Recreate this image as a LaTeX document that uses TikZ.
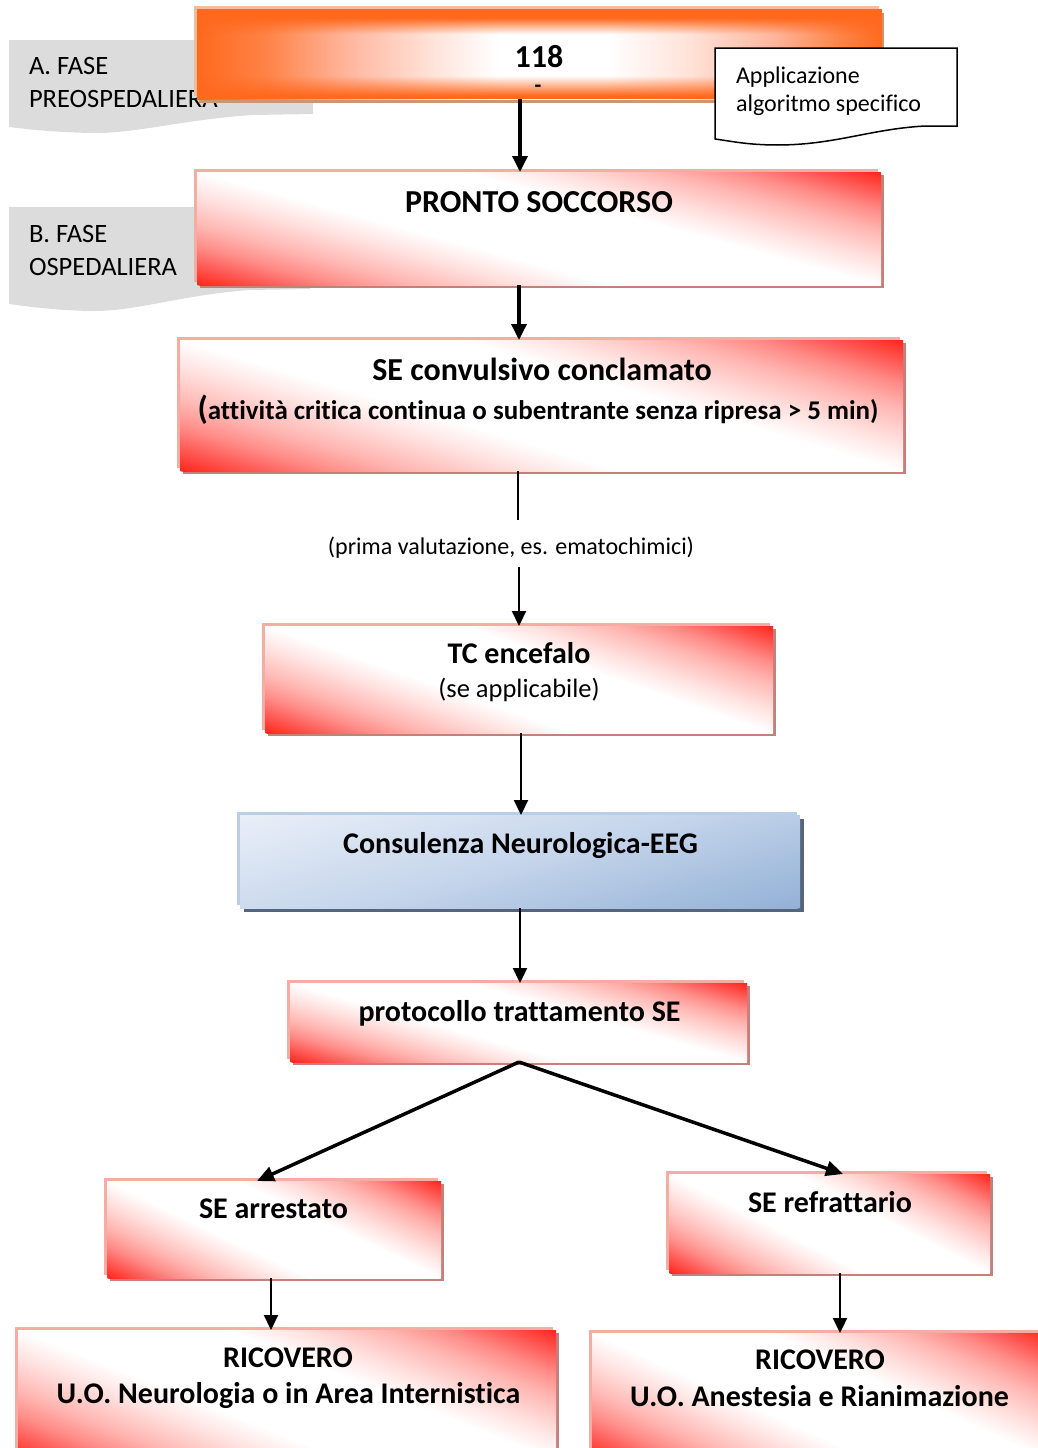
\documentclass[tikz,border=0pt]{standalone}
\usepackage{fontspec}
\setmainfont{Carlito}[Ligatures=NoCommon]
\usetikzlibrary{arrows.meta,shadows,fadings}

% palette
\definecolor{sered}{RGB}{255,38,28}
\definecolor{sepinkA}{RGB}{255,92,88}
\definecolor{sepinkB}{RGB}{255,140,136}
\definecolor{sepinkC}{RGB}{255,182,178}
\definecolor{sepinkD}{RGB}{255,226,224}
\definecolor{edgepink}{RGB}{245,172,162}
\definecolor{shadowred}{RGB}{196,128,122}
\definecolor{orng}{RGB}{255,105,30}
\definecolor{orngA}{RGB}{255,130,70}
\definecolor{orngB}{RGB}{255,182,158}
\definecolor{orngC}{RGB}{255,226,216}
\definecolor{orngedge}{RGB}{246,188,152}
\definecolor{orngshadow}{RGB}{204,150,118}
\definecolor{bluelight}{RGB}{233,239,248}
\definecolor{bluemid}{RGB}{197,213,235}
\definecolor{bluedark}{RGB}{147,177,214}
\definecolor{blueedge}{RGB}{186,206,231}
\definecolor{blueshadow}{RGB}{86,101,126}
\definecolor{labelgray}{RGB}{220,220,220}

% red -- white -- red fill of the flow boxes (corner to corner)
\pgfdeclarehorizontalshading{redreflect}{100bp}{color(0bp)=(sered); color(25bp)=(sered);
  color(28.5bp)=(sepinkA); color(31.5bp)=(sepinkB); color(35bp)=(sepinkC);
  color(40bp)=(sepinkD); color(44bp)=(white); color(56bp)=(white);
  color(60bp)=(sepinkD); color(65bp)=(sepinkC); color(68.5bp)=(sepinkB);
  color(71.5bp)=(sepinkA); color(75bp)=(sered); color(100bp)=(sered)}
% light to dark blue
\pgfdeclarehorizontalshading{bluediag}{100bp}{color(0bp)=(bluelight); color(25bp)=(bluelight);
  color(50bp)=(bluemid); color(75bp)=(bluedark); color(100bp)=(bluedark)}
% orange sides, white centre
\pgfdeclarehorizontalshading{orangeside}{100bp}{color(0bp)=(orng); color(25bp)=(orng);
  color(30bp)=(orngA); color(36bp)=(orngB); color(42bp)=(orngC); color(47bp)=(white);
  color(55bp)=(white); color(61bp)=(orngC); color(67bp)=(orngB); color(72bp)=(orngA);
  color(75bp)=(orng); color(100bp)=(orng)}
% opaque top and bottom bands, transparent middle
\pgfdeclareverticalshading{bandmask}{100bp}{color(0bp)=(pgftransparent!0);
  color(27bp)=(pgftransparent!0); color(38bp)=(pgftransparent!100);
  color(61bp)=(pgftransparent!100); color(70bp)=(pgftransparent!0);
  color(100bp)=(pgftransparent!0)}
\pgfdeclarefading{bandfade}{\pgfuseshading{bandmask}}

\newcommand\txtsize[1]{\fontsize{#1}{#1}\selectfont}

% linear fill of a box along direction #3 (degrees); the two extreme
% corners of the box sit exactly at the ends of the shading's inner range
% #1 node, #2 shading, #3 angle, #4 width, #5 height
\newcommand\boxgrad[5]{%
  \pgfmathsetmacro\gL{abs(cos(#3))*#4+abs(sin(#3))*#5}%
  \pgfmathsetmacro\gM{abs(sin(#3))*#4+abs(cos(#3))*#5}%
  \begin{scope}
    \clip (#1.south west) rectangle (#1.north east);
    \shade[shading=#2,transform canvas={rotate around={#3:(#1.center)}}]
      ([shift={({-\gL/2},{-\gM/2})}]#1.center) rectangle
      ([shift={({\gL/2},{\gM/2})}]#1.center);
  \end{scope}}

\begin{document}
\begin{tikzpicture}[x=1pt,y=-1pt,
  every node/.style={inner sep=0pt,outer sep=0pt},
  redbox/.style={rectangle,fill=white,
    general shadow={shadow xshift=-3pt,shadow yshift=3pt,fill=edgepink},
    general shadow={shadow xshift=3pt,shadow yshift=-3pt,fill=shadowred}},
  orangebox/.style={rectangle,shade,shading=orangeside,
    general shadow={shadow xshift=-3pt,shadow yshift=3pt,fill=orngedge},
    general shadow={shadow xshift=2pt,shadow yshift=-4pt,fill=orngshadow}},
  bluebox/.style={rectangle,fill=white,
    general shadow={shadow xshift=-3pt,shadow yshift=3pt,fill=blueedge},
    general shadow={shadow xshift=4pt,shadow yshift=-4pt,fill=blueshadow}},
  title/.style={anchor=base,font=\bfseries\txtsize{30}},
  bigtitle/.style={anchor=base,font=\bfseries\txtsize{32}},
  phase/.style={anchor=base west,font=\txtsize{26.5}},
  note/.style={anchor=base west,font=\txtsize{24}},
  thickarrow/.style={line width=3.5pt,-{Triangle[length=16pt,width=15pt]}},
  thinarrow/.style={line width=2.2pt,-{Triangle[length=15pt,width=14pt]}},
  diagarrow/.style={line width=3.5pt,-{Triangle[length=17pt,width=15pt]}}]

\useasboundingbox (0,0) rectangle (1038,1448);
\clip (0,0) rectangle (1038,1448);

% phase tabs
\fill[labelgray] (9,40) -- (313,40) -- (313,114) -- (252,115)
  .. controls (180,120) and (135,134) .. (90,133)
  .. controls (50,132) and (25,129) .. (9,127) -- cycle;
\fill[labelgray] (9,207) -- (310,207) -- (310,289) -- (250,290)
  .. controls (180,295) and (135,312) .. (90,311)
  .. controls (50,310) and (25,306) .. (9,304) -- cycle;
\node[phase] (phaseA1) at (29,74) {A. FASE};
\node[phase] (phaseA2) at (29,107) {PREOSPEDALIERA};
\node[phase] (phaseB1) at (29,242) {B. FASE};
\node[phase] (phaseB2) at (29,275) {OSPEDALIERA};

% boxes
\node[orangebox,minimum width=685pt,minimum height=90pt] (n118) at (539.5,54) {};
\fill[orng,path fading=bandfade] (n118.south west) rectangle (n118.north east);
\node[redbox,minimum width=684pt,minimum height=113pt] (ps) at (539,228.5) {};
\boxgrad{ps}{redreflect}{74.8}{684}{113}
\node[redbox,minimum width=723pt,minimum height=131pt] (conv) at (541.5,405.5) {};
\boxgrad{conv}{redreflect}{73.4}{723}{131}
\node[redbox,minimum width=508pt,minimum height=107pt] (tc) at (519,679.5) {};
\boxgrad{tc}{redreflect}{70.8}{508}{107}
\node[bluebox,minimum width=560pt,minimum height=93pt] (cons) at (520,861.5) {};
\boxgrad{cons}{bluediag}{-74.7}{560}{93}
\node[redbox,minimum width=457pt,minimum height=79pt] (prot) at (518.5,1022.5) {};
\boxgrad{prot}{redreflect}{74.1}{457}{79}
\node[redbox,minimum width=334pt,minimum height=97pt] (arr) at (274,1229.5) {};
\boxgrad{arr}{redreflect}{64.4}{334}{97}
\node[redbox,minimum width=321pt,minimum height=99pt] (refr) at (829.5,1223.5) {};
\boxgrad{refr}{redreflect}{63}{321}{99}
\node[redbox,minimum width=538pt,minimum height=130pt] (ricL) at (287,1395) {};
\boxgrad{ricL}{redreflect}{68.3}{538}{130}
\node[redbox,minimum width=456pt,minimum height=126pt] (ricR) at (820,1396) {};
\boxgrad{ricR}{redreflect}{65.5}{456}{126}

% callout
\draw[line width=1.5pt,fill=white] (715,48) -- (957,48) -- (957,126) -- (925,126)
  .. controls (870,129) and (835,145) .. (777,145)
  .. controls (748,145) and (730,141) .. (715,139) -- cycle;
\node[note] (call1) at (736,83) {Applicazione};
\node[note] (call2) at (736,111) {algoritmo specifico};

% texts
\node[bigtitle] (t118) at (539,67) {118};
\node[anchor=center,font=\bfseries\txtsize{22}] (t118b) at (538,89) {-};
\node[bigtitle] (tps) at (539,212) {PRONTO SOCCORSO};
\node[bigtitle] (tconv1) at (542,380) {SE convulsivo conclamato};
\node[anchor=base,font=\bfseries\txtsize{27}] (tconv2) at (538,419)
  {{\txtsize{33}(}attività critica continua o subentrante senza ripresa > 5 min)};
\node[anchor=base,font=\txtsize{24}] (tprima) at (511,554) {(prima valutazione, es. ematochimici)};
\node[title] (ttc1) at (519,663) {TC encefalo};
\node[anchor=base,font=\txtsize{26.5}] (ttc2) at (519,697) {(se applicabile)};
\node[title] (tcons) at (520.5,853) {Consulenza Neurologica-EEG};
\node[title] (tprot) at (519.5,1021) {protocollo trattamento SE};
\node[title] (tarr) at (273.5,1218) {SE arrestato};
\node[title] (trefr) at (830,1212) {SE refrattario};
\node[title] (tricL1) at (288,1367) {RICOVERO};
\node[title] (tricL2) at (288.5,1403) {U.O. Neurologia o in Area Internistica};
\node[title] (tricR1) at (820,1369) {RICOVERO};
\node[title] (tricR2) at (819.5,1406) {U.O. Anestesia e Rianimazione};

% connectors
\coordinate (gapTop) at (518,520);
\coordinate (gapBot) at (519,567);
\draw[thickarrow] ([xshift=-19.5pt]n118.south) -- ([xshift=-19pt]ps.north);
\draw[thickarrow] ([xshift=-20pt]ps.south) -- ([xshift=-22.5pt]conv.north);
\draw[line width=2.2pt] ([xshift=-23.5pt]conv.south) -- (gapTop);
\draw[thinarrow] (gapBot) -- (tc.north);
\draw[thinarrow] ([xshift=2pt]tc.south) -- ([xshift=1pt]cons.north);
\draw[thinarrow] (cons.south) -- ([xshift=1.5pt]prot.north);
\draw[diagarrow] ([xshift=0.5pt]prot.south) -- ([xshift=-17pt]arr.north);
\draw[diagarrow] ([xshift=0.5pt]prot.south) -- ([xshift=13.5pt]refr.north);
\draw[thinarrow] ([xshift=-3pt]arr.south) -- ([xshift=-16pt]ricL.north);
\draw[thinarrow] ([xshift=10.5pt]refr.south) -- ([xshift=20pt]ricR.north);
\end{tikzpicture}
\end{document}
